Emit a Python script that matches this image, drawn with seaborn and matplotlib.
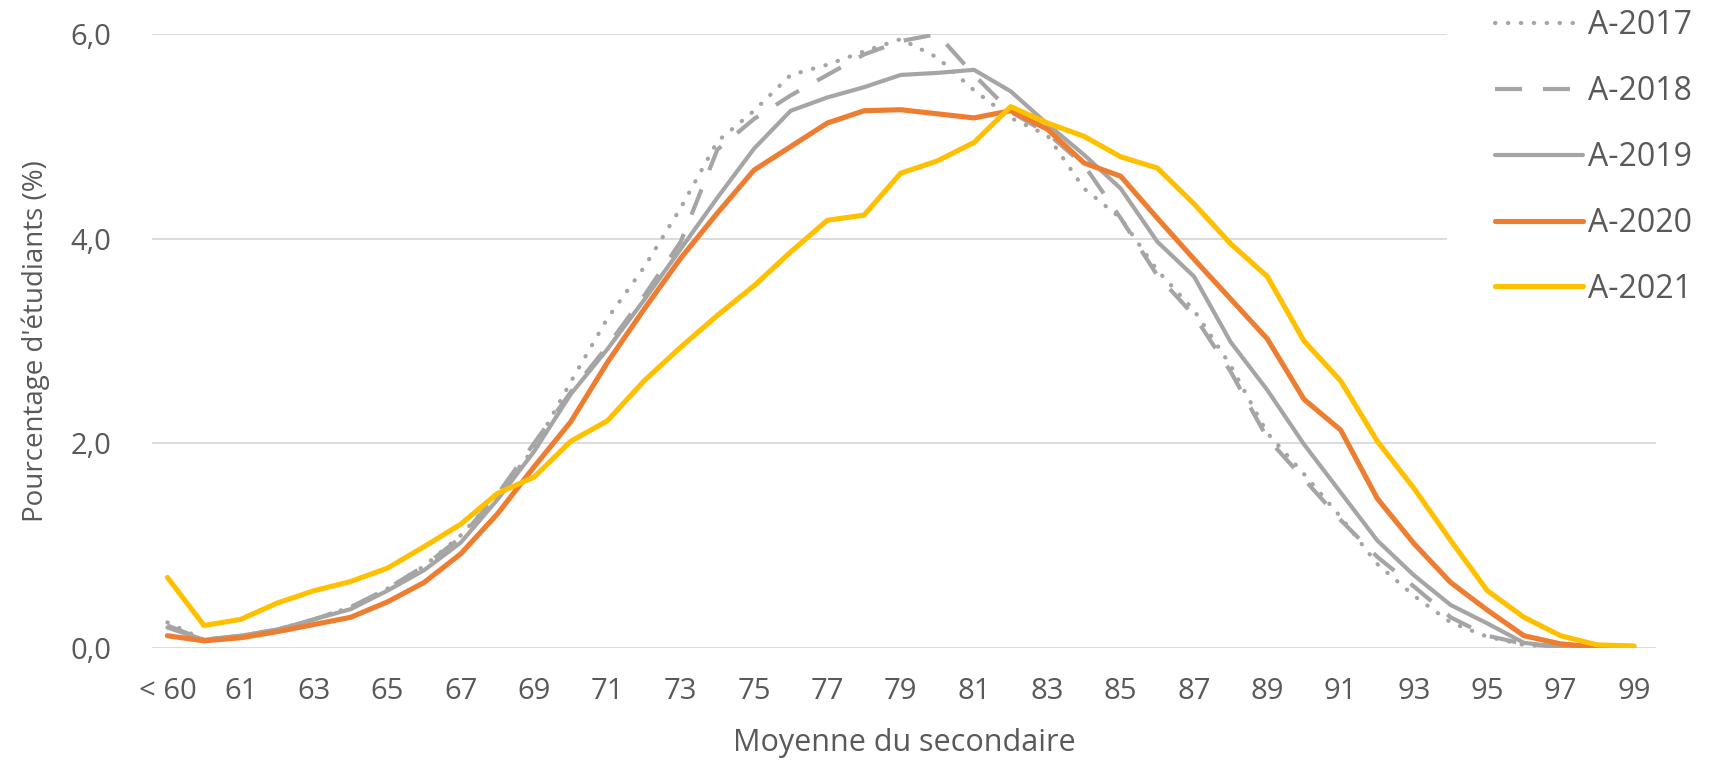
import numpy as np
import pandas as pd
import matplotlib
matplotlib.use("Agg")
import matplotlib.pyplot as plt
from matplotlib.ticker import FuncFormatter
import seaborn as sns

# categories on the x axis
categories = ["< 60"] + [str(v) for v in range(60, 100)]

# % of students per secondary-school average
a2017 = [0.25, 0.08, 0.12, 0.18, 0.28, 0.40, 0.58, 0.80, 1.10, 1.50,
         1.95, 2.60, 3.22, 3.72, 4.30, 4.95, 5.25, 5.60, 5.70, 5.83,
         5.95, 5.77, 5.45, 5.18, 5.01, 4.49, 4.20, 3.69, 3.30, 2.76,
         2.10, 1.70, 1.28, 0.82, 0.51, 0.25, 0.11, 0.03, 0.01, 0.00, 0.00]
a2018 = [0.22, 0.08, 0.12, 0.18, 0.28, 0.40, 0.58, 0.80, 1.08, 1.50,
         2.00, 2.50, 2.95, 3.44, 3.97, 4.87, 5.17, 5.40, 5.60, 5.80,
         5.93, 6.00, 5.60, 5.24, 5.03, 4.72, 4.20, 3.64, 3.25, 2.70,
         2.05, 1.65, 1.25, 0.89, 0.60, 0.30, 0.12, 0.04, 0.01, 0.00, 0.00]
a2019 = [0.20, 0.08, 0.12, 0.18, 0.28, 0.38, 0.56, 0.76, 1.03, 1.45,
         1.92, 2.48, 2.92, 3.40, 3.90, 4.40, 4.88, 5.25, 5.38, 5.48,
         5.60, 5.62, 5.65, 5.44, 5.12, 4.82, 4.49, 3.97, 3.63, 2.99,
         2.52, 1.99, 1.52, 1.05, 0.71, 0.42, 0.24, 0.05, 0.01, 0.00, 0.00]
a2020 = [0.12, 0.07, 0.10, 0.16, 0.23, 0.30, 0.45, 0.64, 0.92, 1.31,
         1.77, 2.21, 2.79, 3.31, 3.81, 4.25, 4.67, 4.90, 5.13, 5.25,
         5.26, 5.22, 5.18, 5.25, 5.07, 4.74, 4.61, 4.20, 3.80, 3.41,
         3.02, 2.43, 2.13, 1.46, 1.02, 0.64, 0.37, 0.12, 0.04, 0.01, 0.00]
a2021 = [0.69, 0.22, 0.28, 0.44, 0.56, 0.65, 0.78, 0.99, 1.21, 1.51,
         1.67, 2.02, 2.22, 2.61, 2.94, 3.25, 3.54, 3.87, 4.18, 4.23,
         4.64, 4.76, 4.94, 5.29, 5.13, 5.00, 4.80, 4.69, 4.34, 3.95,
         3.63, 3.00, 2.61, 2.02, 1.56, 1.05, 0.56, 0.30, 0.12, 0.03, 0.02]

series_names = ["A-2017", "A-2018", "A-2019", "A-2020", "A-2021"]
series_values = [a2017, a2018, a2019, a2020, a2021]

GRAY = "#A5A5A5"
styles = {
    "A-2017": dict(color=GRAY, lw=3.0, linestyle=(0, (0.1, 3.0)), dash_capstyle="round"),
    "A-2018": dict(color=GRAY, lw=3.0, linestyle=(0, (6.5, 5.0))),
    "A-2019": dict(color=GRAY, lw=3.0, linestyle="-"),
    "A-2020": dict(color="#ED7D31", lw=3.7, linestyle="-"),
    "A-2021": dict(color="#FFC000", lw=3.7, linestyle="-"),
}

TEXT = "#595959"
sns.set_style("white")
plt.rcParams["font.family"] = ["Open Sans", "DejaVu Sans"]

fig = plt.figure(figsize=(17.19, 7.62), dpi=100)
ax = fig.add_axes([152 / 1719, 1 - 648 / 762, (1656 - 152) / 1719, (648 - 34) / 762])

pos = np.arange(len(categories))
for name, vals in zip(series_names, series_values):
    df = pd.DataFrame({"x": pos, "y": vals})
    st = styles[name]
    sns.lineplot(data=df, x="x", y="y", ax=ax, label=name, sort=False,
                 color=st["color"], lw=st["lw"], linestyle=st["linestyle"],
                 solid_joinstyle="round")
    if "dash_capstyle" in st:
        ax.lines[-1].set_dash_capstyle(st["dash_capstyle"])

ax.set_xlim(-0.42, len(categories) - 1 + 0.6)
ax.set_ylim(0, 6)
ax.set_yticks([0, 2, 4, 6])
ax.yaxis.set_major_formatter(FuncFormatter(lambda v, p: f"{v:.1f}".replace(".", ",")))
ax.set_xticks(pos[::2])
ax.set_xticklabels(categories[::2])

ax.grid(axis="y", color="#D9D9D9", lw=1.3)
ax.set_axisbelow(True)
for s in ax.spines.values():
    s.set_visible(False)
ax.tick_params(axis="both", length=0, labelsize=21, colors=TEXT)
ax.tick_params(axis="x", pad=21)
ax.tick_params(axis="y", pad=29)

ax.set_xlabel("Moyenne du secondaire", fontsize=22, color=TEXT, labelpad=16)
ax.set_ylabel("Pourcentage d'étudiants (%)", fontsize=20, color=TEXT, labelpad=15)

leg = ax.legend(loc="upper left", bbox_to_anchor=(1431 / 1719, 1.072),
                bbox_transform=fig.transFigure, frameon=True, fontsize=23,
                handlelength=2.75, handletextpad=0.15, labelspacing=1.03,
                borderpad=1.5, labelcolor=TEXT)
leg.get_frame().set_facecolor("white")
leg.get_frame().set_edgecolor("none")
leg.get_frame().set_alpha(1)

fig.savefig("out.png", dpi=100)
